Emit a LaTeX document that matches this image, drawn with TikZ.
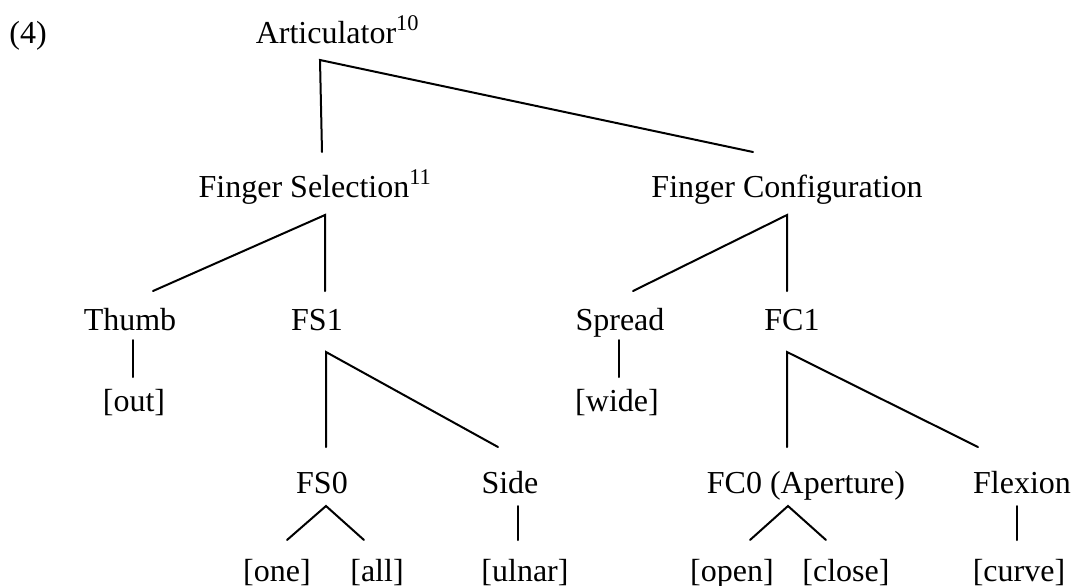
\documentclass[tikz,border=0pt]{standalone}
\usepackage{fontspec}
\setmainfont{Liberation Serif}
\begin{document}
\begin{tikzpicture}[x=0.5pt,y=-0.5pt,
    lbl/.style={anchor=base,inner sep=0pt,font=\fontsize{16}{19}\selectfont},
    branch/.style={line width=1pt,line cap=round}]
    \useasboundingbox (0,0) rectangle (1073,585);
    % labels
    \node[lbl,anchor=base west] (num) at (9,43) {(4)};
    \node[lbl] (art) at (326,43) {Articulator\rlap{\textsuperscript{10}}};
    \node[lbl] (fs) at (304,197) {Finger Selection\rlap{\textsuperscript{11}}};
    \node[lbl] (fc) at (787,197) {Finger Configuration};
    \node[lbl] (thumb) at (130,330) {Thumb};
    \node[lbl] (fs1) at (317,330) {FS1};
    \node[lbl] (spread) at (620,330) {Spread};
    \node[lbl] (fc1) at (792,330) {FC1};
    \node[lbl] (out) at (134,411) {[out]};
    \node[lbl] (wide) at (617,411) {[wide]};
    \node[lbl] (fs0) at (322,493) {FS0};
    \node[lbl] (side) at (510,493) {Side};
    \node[lbl] (fc0) at (806,493) {FC0 (Aperture)};
    \node[lbl] (flex) at (1022,493) {Flexion};
    \node[lbl] (one) at (277,581) {[one]};
    \node[lbl] (all) at (377,581) {[all]};
    \node[lbl] (ulnar) at (525,581) {[ulnar]};
    \node[lbl] (open) at (732,581) {[open]};
    \node[lbl] (close) at (846,581) {[close]};
    \node[lbl] (curve) at (1019,581) {[curve]};
    % branches
    \draw[branch] ([shift={(18,-45)}]fs.base) -- ([shift={(-6,17)}]art.base) -- ([shift={(-34,-45)}]fc.base);
    \draw[branch] ([shift={(23,-39)}]thumb.base) -- ([shift={(21,18)}]fs.base) -- ([shift={(8,-39)}]fs1.base);
    \draw[branch] ([shift={(13,-39)}]spread.base) -- ([shift={(0,18)}]fc.base) -- ([shift={(-5,-39)}]fc1.base);
    \draw[branch] ([shift={(3,10)}]thumb.base) -- ([shift={(-1,-34)}]out.base);
    \draw[branch] ([shift={(-1,10)}]spread.base) -- ([shift={(2,-34)}]wide.base);
    \draw[branch] ([shift={(4,-46)}]fs0.base) -- ([shift={(9,22)}]fs1.base) -- ([shift={(-12,-46)}]side.base);
    \draw[branch] ([shift={(-19,-46)}]fc0.base) -- ([shift={(-5,22)}]fc1.base) -- ([shift={(-44,-46)}]flex.base);
    \draw[branch] ([shift={(10,-41)}]one.base) -- ([shift={(4,13)}]fs0.base) -- ([shift={(-13,-41)}]all.base);
    \draw[branch] ([shift={(8,13)}]side.base) -- ([shift={(-7,-41)}]ulnar.base);
    \draw[branch] ([shift={(18,-41)}]open.base) -- ([shift={(-18,13)}]fc0.base) -- ([shift={(-20,-41)}]close.base);
    \draw[branch] ([shift={(-5,13)}]flex.base) -- ([shift={(-2,-41)}]curve.base);
\end{tikzpicture}
\end{document}
